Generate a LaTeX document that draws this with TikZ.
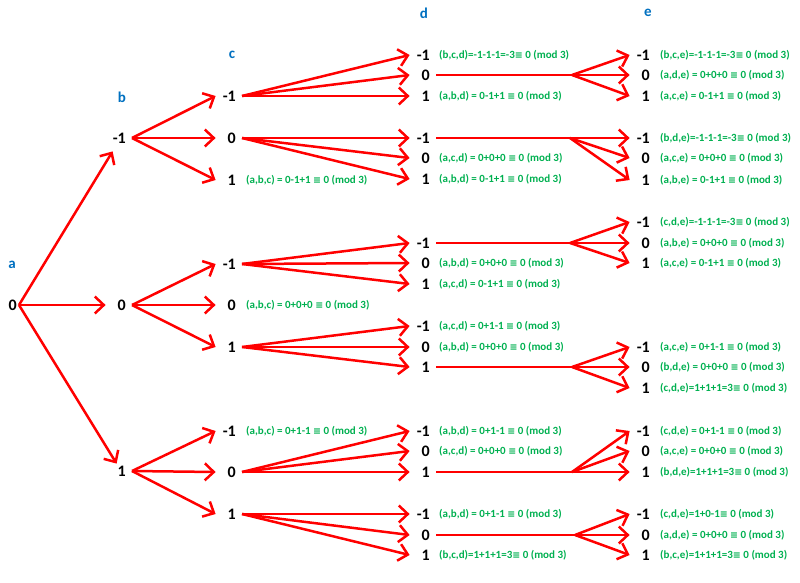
\documentclass[tikz,border=0pt]{standalone}
\usepackage{fontspec}
\setmainfont{Carlito}
\newfontfamily\symfont{DejaVu Sans}
\usetikzlibrary{arrows.meta}
\definecolor{labgreen}{RGB}{0,176,80}
\definecolor{hdrblue}{RGB}{0,112,192}
\newcommand\eqv{{\symfont\bfseries\fontsize{9.5}{10}\selectfont ≡}}
\begin{document}
\begin{tikzpicture}[x=1pt,y=-1pt,
  num/.style={font=\fontsize{16}{16}\selectfont\bfseries, text width=18pt, align=right, inner sep=2pt, anchor=east},
  lab/.style={font=\fontsize{11}{12}\selectfont\bfseries, text=labgreen, anchor=west, inner sep=0pt},
  hdr/.style={font=\fontsize{15}{15}\selectfont\bfseries, text=hdrblue},
  arr/.style={draw=red, line width=2.5pt, -{Straight Barb[length=9pt,width=17pt]}},
  ln/.style={draw=red, line width=2.5pt}]
\useasboundingbox (0,0) rectangle (800,583);
% headers
\node[hdr] (ha) at (12,265) {a};
\node[hdr] (hb) at (122,97) {b};
\node[hdr] (hc) at (232,55) {c};
\node[hdr] (hd) at (424,13) {d};
\node[hdr] (he) at (648,13) {e};
% level a, b
\node[num] (a0) at (19,305) {0};
\node[num] (bm1) at (128,138) {-1};
\node[num] (b0) at (128,305) {0};
\node[num] (b1) at (128,471) {1};
% level c
\node[num] (cm1m1) at (238,96) {-1};
\node[num] (cm10) at (238,138) {0};
\node[num] (cm11) at (238,180) {1};
\node[num] (c0m1) at (238,264) {-1};
\node[num] (c00) at (238,305) {0};
\node[num] (c01) at (238,347) {1};
\node[num] (c1m1) at (238,431) {-1};
\node[num] (c10) at (238,472) {0};
\node[num] (c11) at (238,514) {1};
% level d
\node[num] (d1a) at (432,55) {-1};
\node[num] (d1b) at (432,75) {0};
\node[num] (d1c) at (432,96) {1};
\node[num] (d2a) at (432,138) {-1};
\node[num] (d2b) at (432,158) {0};
\node[num] (d2c) at (432,179) {1};
\node[num] (d3a) at (432,243) {-1};
\node[num] (d3b) at (432,263) {0};
\node[num] (d3c) at (432,284) {1};
\node[num] (d4a) at (432,326) {-1};
\node[num] (d4b) at (432,347) {0};
\node[num] (d4c) at (432,367) {1};
\node[num] (d5a) at (432,431) {-1};
\node[num] (d5b) at (432,451) {0};
\node[num] (d5c) at (432,472) {1};
\node[num] (d6a) at (432,514) {-1};
\node[num] (d6b) at (432,535) {0};
\node[num] (d6c) at (432,555) {1};
% level e
\node[num] (e1a) at (652,55) {-1};
\node[num] (e1b) at (652,75) {0};
\node[num] (e1c) at (652,96) {1};
\node[num] (e2a) at (652,138) {-1};
\node[num] (e2b) at (652,158) {0};
\node[num] (e2c) at (652,180) {1};
\node[num] (e3a) at (652,222) {-1};
\node[num] (e3b) at (652,243) {0};
\node[num] (e3c) at (652,263) {1};
\node[num] (e4a) at (652,347) {-1};
\node[num] (e4b) at (652,367) {0};
\node[num] (e4c) at (652,388) {1};
\node[num] (e5a) at (652,431) {-1};
\node[num] (e5b) at (652,451) {0};
\node[num] (e5c) at (652,472) {1};
\node[num] (e6a) at (652,514) {-1};
\node[num] (e6b) at (652,535) {0};
\node[num] (e6c) at (652,555) {1};
% labels c
\node[lab] (lc1) at (246,180) {(a,b,c) = 0-1+1 \eqv{} 0 (mod 3)};
\node[lab] (lc2) at (246,305) {(a,b,c) = 0+0+0 \eqv{} 0 (mod 3)};
\node[lab] (lc3) at (246,431) {(a,b,c) = 0+1-1 \eqv{} 0 (mod 3)};
% labels d
\node[lab] (ld1) at (439,55) {(b,c,d)=-1-1-1=-3\eqv{} 0 (mod 3)};
\node[lab] (ld2) at (439,96) {(a,b,d) = 0-1+1 \eqv{} 0 (mod 3)};
\node[lab] (ld3) at (439,158) {(a,c,d) = 0+0+0 \eqv{} 0 (mod 3)};
\node[lab] (ld4) at (439,179) {(a,b,d) = 0-1+1 \eqv{} 0 (mod 3)};
\node[lab] (ld5) at (439,263) {(a,b,d) = 0+0+0 \eqv{} 0 (mod 3)};
\node[lab] (ld6) at (439,284) {(a,c,d) = 0-1+1 \eqv{} 0 (mod 3)};
\node[lab] (ld7) at (439,326) {(a,c,d) = 0+1-1 \eqv{} 0 (mod 3)};
\node[lab] (ld8) at (439,347) {(a,b,d) = 0+0+0 \eqv{} 0 (mod 3)};
\node[lab] (ld9) at (439,431) {(a,b,d) = 0+1-1 \eqv{} 0 (mod 3)};
\node[lab] (ld10) at (439,451) {(a,c,d) = 0+0+0 \eqv{} 0 (mod 3)};
\node[lab] (ld11) at (439,514) {(a,b,d) = 0+1-1 \eqv{} 0 (mod 3)};
\node[lab] (ld12) at (439,555) {(b,c,d)=1+1+1=3\eqv{} 0 (mod 3)};
% labels e
\node[lab] (le1) at (660,55) {(b,c,e)=-1-1-1=-3\eqv{} 0 (mod 3)};
\node[lab] (le2) at (660,75) {(a,d,e) = 0+0+0 \eqv{} 0 (mod 3)};
\node[lab] (le3) at (660,96) {(a,c,e) = 0-1+1 \eqv{} 0 (mod 3)};
\node[lab] (le4) at (660,138) {(b,d,e)=-1-1-1=-3\eqv{} 0 (mod 3)};
\node[lab] (le5) at (660,158) {(a,c,e) = 0+0+0 \eqv{} 0 (mod 3)};
\node[lab] (le6) at (660,180) {(a,b,e) = 0-1+1 \eqv{} 0 (mod 3)};
\node[lab] (le7) at (660,222) {(c,d,e)=-1-1-1=-3\eqv{} 0 (mod 3)};
\node[lab] (le8) at (660,243) {(a,b,e) = 0+0+0 \eqv{} 0 (mod 3)};
\node[lab] (le9) at (660,263) {(a,c,e) = 0-1+1 \eqv{} 0 (mod 3)};
\node[lab] (le10) at (660,347) {(a,c,e) = 0+1-1 \eqv{} 0 (mod 3)};
\node[lab] (le11) at (660,367) {(b,d,e) = 0+0+0 \eqv{} 0 (mod 3)};
\node[lab] (le12) at (660,388) {(c,d,e)=1+1+1=3\eqv{} 0 (mod 3)};
\node[lab] (le13) at (660,431) {(c,d,e) = 0+1-1 \eqv{} 0 (mod 3)};
\node[lab] (le14) at (660,451) {(a,c,e) = 0+0+0 \eqv{} 0 (mod 3)};
\node[lab] (le15) at (660,472) {(b,d,e)=1+1+1=3\eqv{} 0 (mod 3)};
\node[lab] (le16) at (660,514) {(c,d,e)=1+0-1\eqv{} 0 (mod 3)};
\node[lab] (le17) at (660,535) {(a,d,e) = 0+0+0 \eqv{} 0 (mod 3)};
\node[lab] (le18) at (660,555) {(b,c,e)=1+1+1=3\eqv{} 0 (mod 3)};
% branch points
\coordinate (br1) at (572,75);
\coordinate (br2) at (570,138);
\coordinate (br3) at (570,243);
\coordinate (br4) at (572,367);
\coordinate (br5) at (572,472);
\coordinate (br6) at (575,535);
% a -> b
\draw[arr] (a0.east) -- ([shift={(7,6)}]bm1.south west);
\draw[arr] (a0.east) -- (b0.west);
\draw[arr] (a0.east) -- ([shift={(11,0)}]b1.north west);
% b -> c
\foreach \s/\t in {bm1/cm1m1,bm1/cm10,bm1/cm11,b0/c0m1,b0/c00,b0/c01,b1/c1m1,b1/c10,b1/c11}
  \draw[arr] ([xshift=4pt]\s.east) -- (\t.west);
% c -> d
\foreach \s/\t in {cm1m1/d1a,cm1m1/d1b,cm1m1/d1c,cm10/d2a,cm10/d2b,cm10/d2c,c0m1/d3a,c0m1/d3b,c0m1/d3c,c01/d4a,c01/d4b,c01/d4c,c10/d5a,c10/d5b,c10/d5c,c11/d6a,c11/d6b,c11/d6c}
  \draw[arr] ([xshift=4pt]\s.east) -- (\t.west);
% d -> e
\draw[ln] ([xshift=4pt]d1b.east) -- (br1);
\draw[ln] ([xshift=4pt]d2a.east) -- (br2);
\draw[ln] ([xshift=4pt]d3a.east) -- (br3);
\draw[ln] ([xshift=4pt]d4c.east) -- (br4);
\draw[ln] ([xshift=4pt]d5c.east) -- (br5);
\draw[ln] ([xshift=4pt]d6b.east) -- (br6);
\foreach \s/\t in {br1/e1a,br1/e1b,br1/e1c,br2/e2a,br2/e2b,br2/e2c,br3/e3a,br3/e3b,br3/e3c,br4/e4a,br4/e4b,br4/e4c,br5/e5a,br5/e5b,br5/e5c,br6/e6a,br6/e6b,br6/e6c}
  \draw[arr] (\s) -- (\t.west);
\end{tikzpicture}
\end{document}
